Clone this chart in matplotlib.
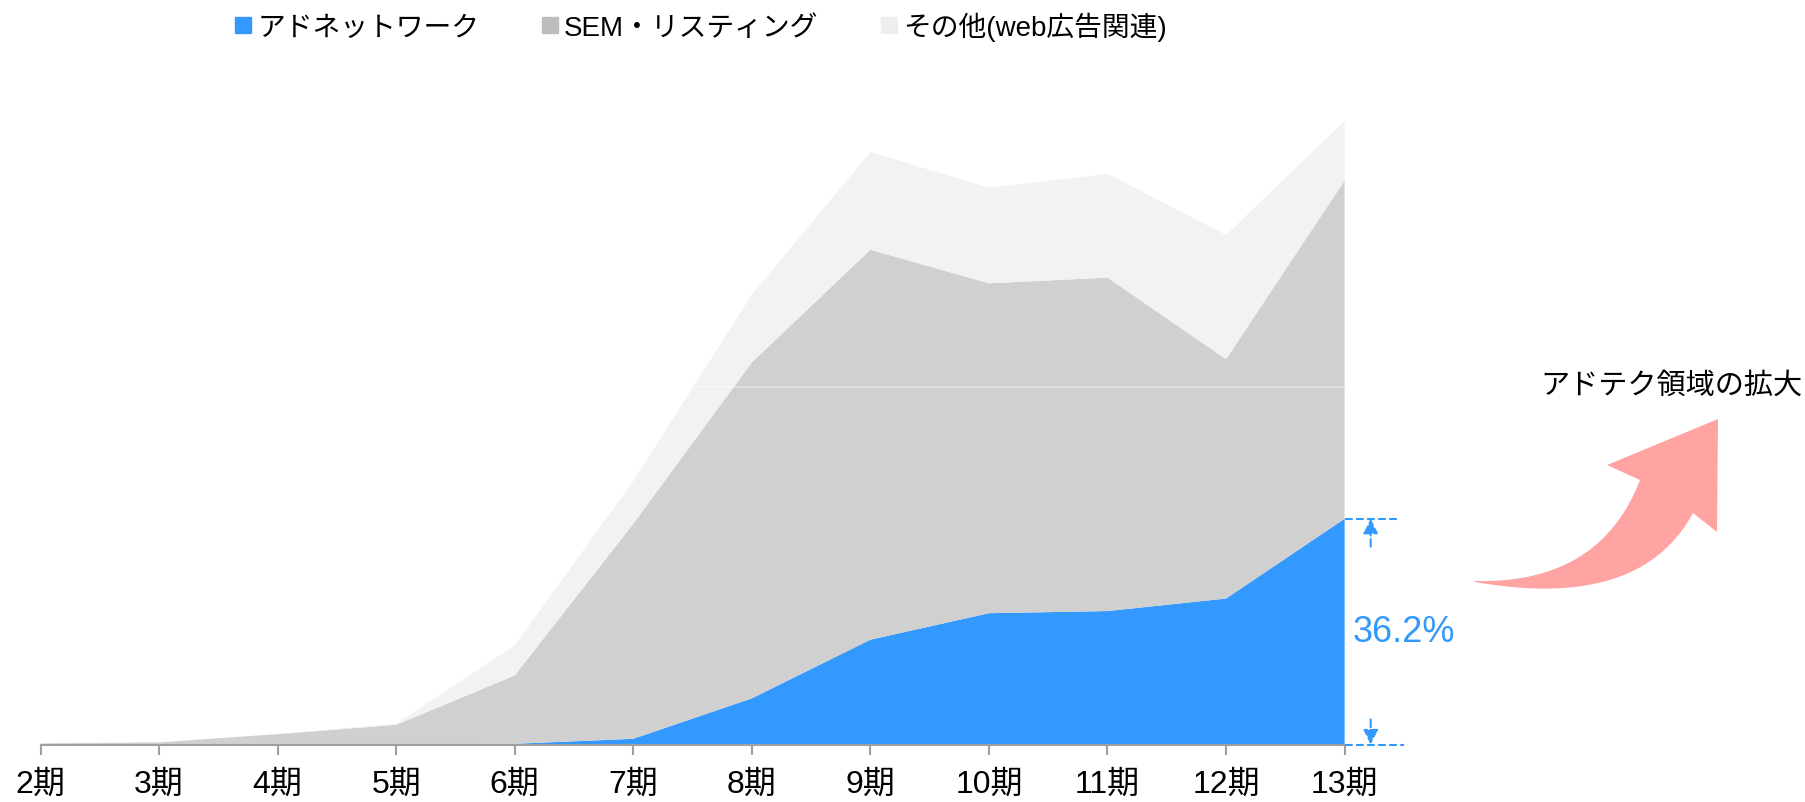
import matplotlib.pyplot as plt
from matplotlib.lines import Line2D
from matplotlib.patches import Polygon
import numpy as np

# ===== Data (arbitrary units) =====
PERIODS = ["2期", "3期", "4期", "5期", "6期", "7期", "8期", "9期", "10期", "11期", "12期", "13期"]
AD_NETWORK = [0, 0, 0, 0, 0.2, 1.6, 12.9, 29.3, 36.7, 37.3, 40.8, 63.1]
SEM_LISTING = [0.3, 0.6, 2.9, 5.5, 19.1, 60.1, 93.9, 109.0, 92.2, 93.2, 66.9, 94.5]
OTHER_WEB = [0, 0, 0, 0.3, 8.4, 11.9, 18.9, 27.3, 26.7, 29.0, 34.7, 16.7]
SERIES_LABELS = ["アドネットワーク", "SEM・リスティング", "その他(web広告関連)"]
SHARE_LABEL = "36.2%"
TREND_LABEL = "アドテク領域の拡大"

# ===== Style =====
BLUE = "#3399ff"
GRAY = "#d0d0d0"
LIGHT = "#f2f2f2"
PINK = "#ffa3a3"
AXIS_GRAY = "#a0a0a0"
FONTS = ["Liberation Sans", "Noto Sans CJK JP", "DejaVu Sans"]

W, H = 1805, 803

plt.rcParams["font.family"] = FONTS


def px(x, y):
    # pixel position (top-left origin) -> figure fraction
    return (x / W, 1 - y / H)


def quad(p0, p1, p2, n=30):
    t = np.linspace(0, 1, n)[:, None]
    p0, p1, p2 = map(np.array, (p0, p1, p2))
    return (1 - t) ** 2 * p0 + 2 * (1 - t) * t * p1 + t ** 2 * p2


fig = plt.figure(figsize=(W / 100, H / 100), dpi=100)
ax = fig.add_axes([40.5 / W, 1 - 745.5 / H, (1344.6 - 40.5) / W, 644 / H])

x = np.arange(len(PERIODS))
ax.stackplot(x, AD_NETWORK, SEM_LISTING, OTHER_WEB,
             colors=[BLUE, GRAY, LIGHT], linewidth=0, zorder=1)

ax.set_xlim(0, len(PERIODS) - 1)
ax.set_ylim(0, 180)
ax.set_yticks([100])
ax.yaxis.grid(True, color="white", alpha=0.4, linewidth=1.2, zorder=2)
ax.set_axisbelow(False)
ax.tick_params(axis="y", left=False, labelleft=False)

ax.set_xticks(x)
ax.set_xticklabels(PERIODS, fontsize=23)
ax.tick_params(axis="x", direction="out", length=7.5, width=1.5, color=AXIS_GRAY, pad=10)
for side in ["top", "right", "left"]:
    ax.spines[side].set_visible(False)
ax.spines["bottom"].set_color(AXIS_GRAY)
ax.spines["bottom"].set_linewidth(1.5)
ax.set_facecolor("none")

# ===== Share annotation at the last period =====
last = len(PERIODS) - 1
top = AD_NETWORK[last]
ax.plot([last, last + 0.47], [top, top], ls="--", color=BLUE, lw=1.5, clip_on=False)
ax.plot([last, last + 0.5], [0, 0], ls="--", color=BLUE, lw=1.5, clip_on=False, zorder=3)
arrow_kw = dict(arrowstyle="-|>", ls="--", color=BLUE, lw=1.5, mutation_scale=22,
                shrinkA=0, shrinkB=0)
ax.annotate("", xy=(last + 0.22, top), xytext=(last + 0.22, top - 7.8),
            arrowprops=arrow_kw, annotation_clip=False)
ax.annotate("", xy=(last + 0.22, 0), xytext=(last + 0.22, 7.0),
            arrowprops=arrow_kw, annotation_clip=False)
ax.text(last + 0.07, top / 2, SHARE_LABEL, color=BLUE, fontsize=26,
        ha="left", va="center", clip_on=False)

# ===== Legend =====
handles = [Line2D([], [], marker="s", ls="none", markersize=12, color=c)
           for c in [BLUE, "#bdbdbd", "#eeeeee"]]
fig.legend(handles, SERIES_LABELS, loc="center", bbox_to_anchor=(0.388, 0.966),
           ncol=3, frameon=False, fontsize=20, handletextpad=0.15,
           columnspacing=2.2, handlelength=0.7)

# ===== Curved trend arrow =====
upper = quad((1475, 582), (1600, 585), (1640, 481))
lower = quad((1475, 583), (1640, 612), (1693, 514))
head = np.array([(1607, 466), (1718, 420), (1717, 533)])
outline = np.vstack([upper, head, lower[::-1]])
fig.patches.append(Polygon([px(a, b) for a, b in outline], closed=True,
                           facecolor=PINK, edgecolor="none",
                           transform=fig.transFigure, figure=fig))

fig.text(*px(1802, 386), TREND_LABEL, fontsize=21, ha="right", va="center")

fig.savefig("out.png", dpi=100)
